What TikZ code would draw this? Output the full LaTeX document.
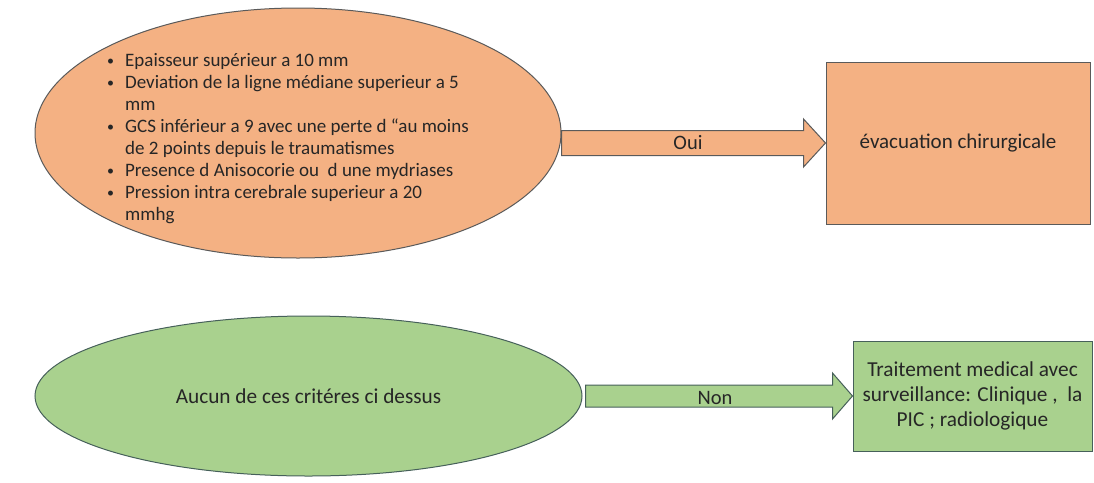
\documentclass[tikz,border=0pt]{standalone}
\usepackage{fontspec}
\setmainfont{Carlito}
\usetikzlibrary{shapes.geometric,calc}
\definecolor{orfill}{HTML}{F4B183}
\definecolor{grfill}{HTML}{A9D18E}
\definecolor{orline}{HTML}{5A5A5A}
\definecolor{grline}{HTML}{46605A}
\definecolor{txt}{HTML}{262626}
\newcommand{\smbul}{\raisebox{1pt}{\fontsize{14}{14}\selectfont\textbullet}}
\tikzset{
  orshape/.style={fill=orfill,draw=orline,line width=1pt},
  grshape/.style={fill=grfill,draw=grline,line width=1pt},
  ellnode/.style={ellipse,inner sep=0pt},
  boxnode/.style={rectangle,inner sep=0pt,align=center,text=txt},
  lbl/.style={text=txt,font=\fontsize{20.5}{24}\selectfont,inner sep=0pt},
}
\begin{document}
\begin{tikzpicture}[x=1pt,y=-1pt]
\useasboundingbox (0,0) rectangle (1094,482);
% top row
\node[ellnode,orshape,minimum width=526pt,minimum height=250pt] (e1) at (298,133) {};
\node[anchor=west,text=txt,inner sep=0pt,font=\fontsize{19}{22}\selectfont] (list) at (107,139.5) {%
\begin{tabular}{@{}l@{\hspace{11pt}}l@{}}
\smbul & Epaisseur supérieur a 10 mm\\
\smbul & Deviation de la ligne médiane superieur a 5\\
 & mm\\
\smbul & GCS inférieur a 9 avec une perte d “au moins\\
 & de 2 points depuis le traumatismes\\
\smbul & Presence d Anisocorie ou\ \ d une mydriases\\
\smbul & Pression intra cerebrale superieur a 20\\
 & mmhg
\end{tabular}};
\node[boxnode,orshape,minimum width=264pt,minimum height=162pt,font=\fontsize{21}{25}\selectfont] (b1) at (958,143) {évacuation chirurgicale};
\draw[orshape] ($(e1.east|-b1.west)+(0,12.5)$) -- ($(b1.west)+(-22,12.5)$) -- ($(b1.west)+(-22,24)$) -- (b1.west) -- ($(b1.west)+(-22,-24)$) -- ($(b1.west)+(-22,-12.5)$) -- ($(e1.east|-b1.west)+(0,-12.5)$) -- cycle;
\node[lbl] (oui) at (688,143) {Oui};
% bottom row
\node[ellnode,grshape,minimum width=547pt,minimum height=160pt,text=txt,font=\fontsize{21.3}{25}\selectfont] (e2) at (308.5,396) {Aucun de ces critéres ci dessus};
\node[boxnode,grshape,minimum width=239pt,minimum height=110pt,font=\fontsize{21.3}{25}\selectfont] (b2) at (972.5,396) {Traitement medical avec\\surveillance: Clinique ,\ \ la\\PIC ; radiologique};
\draw[grshape] ($(e2.east|-b2.west)+(3,11)$) -- ($(b2.west)+(-20,11)$) -- ($(b2.west)+(-20,23)$) -- (b2.west) -- ($(b2.west)+(-20,-23)$) -- ($(b2.west)+(-20,-11)$) -- ($(e2.east|-b2.west)+(3,-11)$) -- cycle;
\node[lbl] (non) at (715,398) {Non};
\end{tikzpicture}
\end{document}
